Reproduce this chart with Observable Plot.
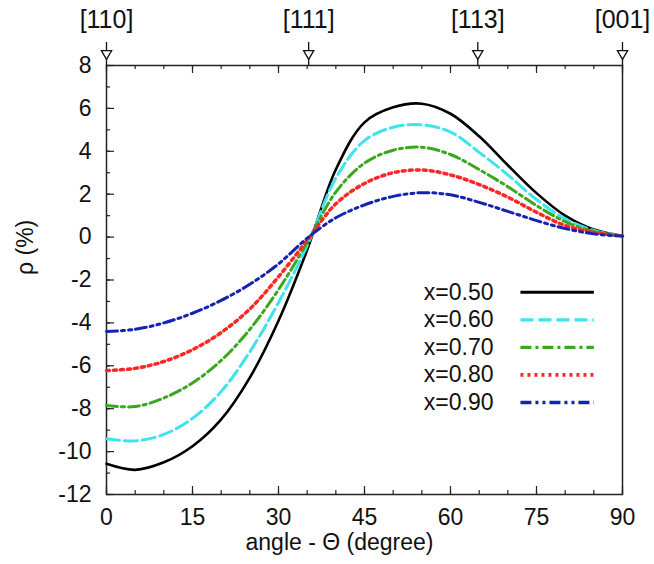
<!DOCTYPE html>
<html>
<head>
<meta charset="utf-8">
<script src="https://cdn.jsdelivr.net/npm/d3@7"></script>
<script src="https://cdn.jsdelivr.net/npm/@observablehq/plot@0.6"></script>
<style>
  html, body { margin: 0; padding: 0; background: #fff; }
</style>
</head>
<body>
<div id="chart"></div>
<script>
// ---- data ----
const angles = [0, 5, 10, 15, 20, 25, 30, 35, 40, 45, 50, 55, 60, 65, 70, 75, 80, 85, 90];
const rhoX050 = [-10.57, -10.85, -10.5, -9.75, -8.5, -6.55, -3.9, -0.6, 3.15, 5.35, 6.05, 6.22, 5.75, 4.7, 3.35, 2.05, 1.0, 0.35, 0.05];
const rhoX060 = [-9.4, -9.5, -9.2, -8.45, -7.2, -5.35, -3.05, -0.4, 2.75, 4.5, 5.12, 5.23, 4.9, 3.95, 2.9, 1.75, 0.85, 0.31, 0.05];
const rhoX070 = [-7.85, -7.9, -7.5, -6.8, -5.75, -4.3, -2.45, -0.25, 2.1, 3.45, 4.05, 4.19, 3.85, 3.15, 2.35, 1.47, 0.72, 0.26, 0.05];
const rhoX080 = [-6.22, -6.12, -5.8, -5.25, -4.45, -3.35, -1.85, -0.15, 1.55, 2.5, 3.0, 3.13, 2.9, 2.45, 1.86, 1.16, 0.54, 0.22, 0.05];
const rhoX090 = [-4.4, -4.3, -4.0, -3.55, -2.95, -2.2, -1.25, -0.05, 0.9, 1.5, 1.9, 2.07, 1.97, 1.62, 1.2, 0.77, 0.4, 0.15, 0.05];
const seriesLabels = ["x=0.50", "x=0.60", "x=0.70", "x=0.80", "x=0.90"];
const seriesValues = [rhoX050, rhoX060, rhoX070, rhoX080, rhoX090];
const dirLabels = ["[110]", "[111]", "[113]", "[001]"];
const dirAngles = [0, 35.26, 64.76, 90];
const xTickLabels = [0, 15, 30, 45, 60, 75, 90];
const yTickLabels = [-12, -10, -8, -6, -4, -2, 0, 2, 4, 6, 8];
const xLabel = "angle - Θ (degree)";
const yLabel = "ρ (%)";

// ---- styles ----
const styles = [
  {stroke: "#000000", strokeWidth: 2.6, dash: null},
  {stroke: "#40e2ee", strokeWidth: 3, dash: "13,5"},
  {stroke: "#3aa81e", strokeWidth: 3, dash: "11,4,3,4"},
  {stroke: "#ff2626", strokeWidth: 3.5, dash: "3,4"},
  {stroke: "#1424b0", strokeWidth: 3, dash: "11,4,3,4,3,4"}
];

const rows = [];
seriesLabels.forEach((s, i) => {
  angles.forEach((a, j) => rows.push({series: s, angle: a, rho: seriesValues[i][j]}));
});

const W = 654, H = 564;
const mL = 106, mR = 32, mT = 65, mB = 70;
const fw = W - mL - mR, fh = H - mT - mB;

const xMinor = d3.range(0, 91, 5);
const yMinor = d3.range(-12, 8.1, 1);

// legend rows (inside the frame, in plot units)
const legendRows = seriesLabels.map((s, i) => ({label: s, i, y: -2.57 - i * 1.285}));
const dirRows = dirAngles.map((a, i) => ({angle: a, label: dirLabels[i]}));

const marks = [
  Plot.tickX(xMinor, {x: d => d, insetTop: fh - 4, stroke: "#222", strokeWidth: 1.2}),
  Plot.tickX(xTickLabels, {x: d => d, insetTop: fh - 8, stroke: "#222", strokeWidth: 1.2}),
  Plot.tickX(xMinor, {x: d => d, insetBottom: fh - 4, stroke: "#222", strokeWidth: 1.2}),
  Plot.tickX(xTickLabels, {x: d => d, insetBottom: fh - 8, stroke: "#222", strokeWidth: 1.2}),
  Plot.tickY(yMinor, {y: d => d, insetRight: fw - 4, stroke: "#222", strokeWidth: 1.2}),
  Plot.tickY(yTickLabels, {y: d => d, insetRight: fw - 8, stroke: "#222", strokeWidth: 1.2}),
  Plot.axisX(xTickLabels, {tickSize: 0, tickPadding: 14, label: null, fontSize: 23, fill: "#111", tickFormat: d => String(d)}),
  Plot.axisY(yTickLabels, {tickSize: 0, tickPadding: 15, label: null, fontSize: 23, fill: "#111", tickFormat: d => String(d)}),
  Plot.frame({stroke: "#222", strokeWidth: 1.5})
];

seriesLabels.forEach((s, i) => {
  const st = styles[i];
  marks.push(Plot.line(rows.filter(r => r.series === s), {
    x: "angle", y: "rho", stroke: st.stroke, strokeWidth: st.strokeWidth,
    strokeDasharray: st.dash, curve: "catmull-rom"
  }));
});

// legend
marks.push(Plot.text(legendRows, {x: 67.5, y: "y", text: "label", textAnchor: "end", fontSize: 23, fill: "#111"}));
legendRows.forEach((r, i) => {
  const st = styles[i];
  marks.push(Plot.link([r], {x1: 72.2, x2: 85, y1: "y", y2: "y", stroke: st.stroke, strokeWidth: st.strokeWidth + 0.3, strokeDasharray: st.dash}));
});

// top direction markers
marks.push(Plot.ruleX(dirRows, {x: "angle", y1: 8, y2: 9.07, stroke: "#111", strokeWidth: 1.3}));
marks.push(Plot.dot(dirRows, {x: "angle", y: 8, dy: -12, symbol: "triangle", rotate: 180, r: 3.8, fill: "white", stroke: "#111", strokeWidth: 1.3}));
marks.push(Plot.text(dirRows, {x: "angle", y: 8, dy: -46, text: "label", fontSize: 25, fill: "#111"}));

// axis titles
marks.push(Plot.text([xLabel], {frameAnchor: "bottom", dy: 55, dx: -25, text: d => d, fontSize: 23, fill: "#111"}));
marks.push(Plot.text([yLabel], {frameAnchor: "left", dx: -81, dy: -5, rotate: -90, text: d => d, fontSize: 23, fill: "#111"}));

const chart = Plot.plot({
  width: W, height: H,
  marginLeft: mL, marginRight: mR, marginTop: mT, marginBottom: mB,
  x: {domain: [0, 90], axis: null},
  y: {domain: [-12, 8], axis: null},
  style: {fontFamily: "'Liberation Sans', Arial, sans-serif", fontSize: "23px", background: "white", color: "#111", overflow: "visible"},
  marks
});
document.getElementById("chart").appendChild(chart);
</script>
</body>
</html>
